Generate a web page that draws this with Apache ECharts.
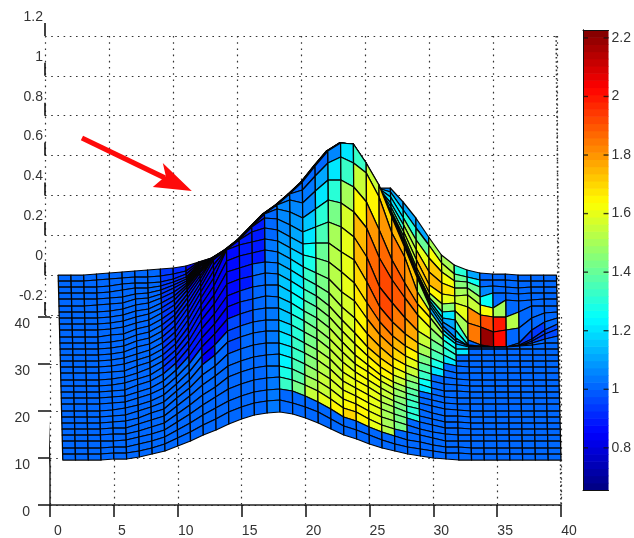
<!DOCTYPE html>
<html>
<head>
<meta charset="utf-8">
<style>html,body{margin:0;padding:0;background:#fff}#c{width:634px;height:538px}</style>
<script src="https://cdn.jsdelivr.net/npm/echarts@6/dist/echarts.min.js"></script>
</head>
<body>
<div id="c"></div>
<script>
// Tick labels
const xTicks = [0,5,10,15,20,25,30,35,40];
const depthTicks = [0,10,20,30,40];
const zTicks = [-0.2,0,0.2,0.4,0.6,0.8,1,1.2];
const colorTicks = [0.8,1,1.2,1.4,1.6,1.8,2,2.2];
const colorRange = [0.656,2.227];

// Surface vertex heights, one list per column (x = 1..40), front row to back row.
// Unit: 1 level = 0.005 on the vertical scale.
const h01=[-185,-179,-173,-166,-160,-154,-148,-142,-136,-129,-123,-117,-111,-105,-98,-92,-86,-80,-74,-68,-62,-55,-49,-43,-37,-31,-24,-18,-12,-6,0];
const h02=[-185,-179,-173,-166,-160,-154,-148,-142,-136,-129,-123,-117,-111,-105,-98,-92,-86,-80,-74,-68,-62,-55,-49,-43,-37,-31,-24,-18,-12,-6,0];
const h03=[-185,-179,-173,-166,-160,-154,-148,-142,-136,-129,-123,-117,-111,-105,-98,-92,-86,-80,-74,-68,-62,-55,-49,-43,-37,-31,-24,-18,-12,-6,0];
const h04=[-185,-179,-173,-166,-160,-154,-148,-142,-136,-129,-123,-117,-111,-105,-98,-92,-86,-80,-74,-68,-62,-55,-49,-43,-37,-30,-24,-18,-12,-5,1];
const h05=[-184,-178,-172,-166,-159,-153,-147,-141,-135,-128,-122,-116,-110,-104,-97,-91,-85,-79,-73,-67,-60,-54,-48,-42,-36,-29,-23,-17,-11,-4,2];
const h06=[-184,-178,-172,-165,-159,-153,-146,-140,-133,-127,-121,-115,-108,-102,-96,-89,-83,-77,-71,-65,-59,-52,-46,-40,-34,-28,-22,-15,-9,-3,3];
const h07=[-182,-176,-169,-162,-156,-149,-143,-136,-130,-123,-117,-110,-104,-98,-91,-85,-79,-72,-66,-60,-54,-48,-42,-36,-30,-24,-19,-13,-8,-2,4];
const h08=[-179,-173,-166,-159,-152,-145,-138,-132,-126,-119,-113,-106,-100,-93,-87,-81,-75,-69,-63,-57,-51,-45,-39,-34,-28,-23,-18,-13,-8,-2,5];
const h09=[-176,-169,-162,-155,-148,-141,-134,-127,-120,-113,-106,-99,-92,-86,-80,-74,-68,-62,-56,-50,-44,-38,-33,-28,-23,-19,-15,-11,-7,-1,6];
const h10=[-171,-163,-155,-147,-139,-131,-123,-116,-109,-102,-95,-88,-81,-75,-69,-63,-57,-51,-45,-40,-35,-30,-25,-21,-17,-13,-10,-7,-4,1,7];
const h11=[-166,-157,-148,-139,-130,-121,-113,-105,-97,-89,-81,-73,-66,-59,-52,-45,-39,-33,-28,-23,-19,-15,-12,-10,-8,-6,-4,-2,1,4,9];
const h12=[-160,-150,-140,-130,-120,-110,-100,-90,-81,-72,-63,-54,-45,-37,-30,-23,-17,-12,-8,-4,-1,2,4,6,8,9,10,11,12,13,13];
const h13=[-155,-144,-133,-122,-112,-101,-91,-80,-70,-59,-49,-39,-29,-20,-11,-3,4,10,15,17,17,17,17,17,17,17,17,17,17,17,17];
const h14=[-149,-137,-126,-114,-102,-91,-79,-67,-56,-44,-32,-21,-9,3,14,25,25,25,25,25,25,25,25,25,25,25,25,25,25,25,25];
const h15=[-144,-132,-121,-109,-97,-86,-74,-62,-51,-39,-27,-16,-4,7,19,30,35,35,35,35,35,35,35,35,35,35,35,35,35,35,35];
const h16=[-140,-128,-117,-105,-93,-82,-70,-58,-47,-35,-24,-12,-1,11,22,33,43,48,48,48,48,48,48,48,48,48,48,48,48,48,48];
const h17=[-138,-126,-115,-103,-91,-80,-68,-56,-45,-33,-21,-10,2,13,25,36,47,57,61,61,61,61,61,61,61,61,61,61,61,61,61];
const h18=[-137,-125,-114,-102,-91,-79,-68,-56,-45,-33,-22,-10,1,12,23,34,45,56,66,70,70,70,70,70,70,70,70,70,70,70,70];
const h19=[-139,-128,-116,-105,-94,-83,-72,-61,-50,-39,-28,-17,-6,5,16,27,38,50,63,75,81,81,81,81,81,81,81,81,81,81,81];
const h20=[-143,-132,-121,-110,-100,-89,-78,-68,-57,-46,-36,-25,-14,-3,8,20,31,43,57,72,85,93,93,93,93,93,93,93,93,93,93];
const h21=[-148,-137,-127,-116,-106,-96,-85,-75,-64,-54,-43,-32,-21,-10,2,17,32,48,66,84,99,109,109,109,109,109,109,109,109,109,109];
const h22=[-154,-144,-134,-124,-114,-104,-94,-84,-74,-64,-53,-42,-31,-18,-4,13,32,53,75,95,112,124,124,124,124,124,124,124,124,124,124];
const h23=[-160,-151,-142,-133,-124,-115,-106,-97,-87,-77,-67,-56,-45,-32,-17,3,23,48,72,95,118,132,132,132,132,132,132,132,132,132,132];
const h24=[-164,-155,-146,-137,-129,-121,-113,-105,-97,-89,-80,-69,-58,-43,-26,-8,15,38,63,88,112,131,131,131,131,131,131,131,131,131,131];
const h25=[-169,-160,-152,-144,-136,-128,-120,-112,-105,-97,-90,-81,-72,-59,-44,-28,-7,18,47,73,102,112,112,112,112,112,112,112,112,112,112];
const h26=[-173,-165,-157,-150,-142,-134,-127,-120,-113,-106,-100,-92,-83,-72,-60,-47,-32,-12,17,45,78,90,87,87,87,87,87,87,87,87,87];
const h27=[-176,-169,-161,-154,-146,-139,-132,-126,-120,-113,-107,-100,-92,-83,-72,-61,-47,-28,-5,15,42,58,59,60,62,64,68,72,78,83,87];
const h28=[-179,-172,-165,-157,-150,-143,-137,-131,-124,-118,-112,-105,-98,-90,-81,-71,-59,-43,-23,-8,18,28,29,31,34,38,43,50,57,65,73];
const h29=[-181,-174,-167,-160,-154,-147,-141,-134,-128,-122,-116,-109,-103,-95,-87,-78,-68,-56,-40,-29,-17,-3,-2,0,3,7,15,25,35,47,57];
const h30=[-183,-176,-170,-163,-157,-150,-144,-138,-131,-125,-119,-113,-106,-99,-91,-83,-74,-64,-53,-43,-37,-32,-29,-26,-23,-18,-10,3,17,30,38];
const h31=[-184,-178,-172,-166,-159,-153,-147,-141,-134,-128,-122,-116,-109,-102,-95,-88,-80,-72,-65,-59,-55,-51,-47,-43,-37,-29,-19,-8,3,12,20];
const h32=[-185,-178,-172,-166,-160,-153,-147,-141,-135,-129,-123,-116,-110,-104,-98,-91,-86,-80,-74,-69,-66,-63,-55,-45,-36,-28,-21,-13,-6,1,10];
const h33=[-185,-179,-173,-166,-160,-154,-148,-142,-136,-129,-123,-117,-111,-105,-98,-92,-86,-80,-74,-72,-71,-71,-70,-65,-48,-32,-20,-13,-7,-2,5];
const h34=[-185,-179,-173,-166,-160,-154,-148,-142,-136,-129,-123,-117,-111,-105,-98,-92,-86,-80,-74,-72,-72,-72,-71,-70,-52,-40,-30,-22,-12,-5,2];
const h35=[-185,-179,-173,-166,-160,-154,-148,-142,-136,-129,-123,-117,-111,-105,-98,-92,-86,-80,-74,-72,-72,-72,-72,-72,-57,-42,-33,-18,-11,-5,1];
const h36=[-185,-179,-173,-166,-160,-154,-148,-142,-136,-129,-123,-117,-111,-105,-98,-92,-86,-80,-74,-72,-72,-72,-72,-72,-55,-42,-25,-18,-12,-5,1];
const h37=[-185,-179,-173,-166,-160,-154,-148,-142,-136,-129,-123,-117,-111,-105,-98,-92,-86,-80,-74,-71,-71,-71,-70,-68,-53,-37,-26,-19,-13,-6,0];
const h38=[-185,-179,-173,-166,-160,-154,-148,-142,-136,-129,-123,-117,-111,-105,-98,-92,-86,-80,-74,-70,-68,-66,-64,-55,-43,-31,-25,-18,-12,-6,0];
const h39=[-185,-179,-173,-166,-160,-154,-148,-142,-136,-129,-123,-117,-111,-105,-98,-92,-86,-80,-74,-68,-64,-59,-55,-47,-38,-31,-24,-18,-12,-6,0];
const h40=[-185,-179,-173,-166,-160,-154,-148,-142,-136,-129,-123,-117,-111,-105,-98,-92,-86,-80,-74,-68,-61,-54,-49,-43,-37,-31,-24,-18,-12,-6,0];
const surfaceLevels=[h01,h02,h03,h04,h05,h06,h07,h08,h09,h10,h11,h12,h13,h14,h15,h16,h17,h18,h19,h20,h21,h22,h23,h24,h25,h26,h27,h28,h29,h30,h31,h32,h33,h34,h35,h36,h37,h38,h39,h40];

// Cell colour values read against the colour bar, one list per column of cells, front row to back row.
const c01=[1.02,1.02,1.02,1.02,1.02,1.02,1.02,1.02,1.02,1.02,1.02,1.02,1.02,1.02,1.02,1.02,1.02,1.02,1.02,1.02,1.02,1.02,1.02,1.02,1.02,1.02,1.02,1.02,1.02,1.02];
const c02=c01, c03=c01, c04=c01, c05=c01, c06=c01, c07=c01, c08=c01;
const c09=[1.02,1.02,1.02,1.02,1.02,1.02,1.02,1.02,1.02,1.02,1.02,.94,.94,.94,.94,.94,.94,.94,.94,.94,.94,.94,.94,.94,.94,.94,.94,.94,.94,.94];
const c10=[1.02,1.02,1.02,1.02,1.02,1.02,1.02,1.02,1.02,1.02,.92,.92,.92,.92,.92,.92,.92,.92,.92,.92,.92,.92,.92,.92,.92,.92,.92,.92,.92,.92];
const c11=[1.02,1.02,1.02,1.02,1.02,1.02,1.02,1.02,1.02,.88,.88,.88,.88,.88,.88,.88,.88,.88,.88,.88,.85,.85,.85,.85,.85,.85,.85,.85,.85,.85];
const c12=[1.02,1.02,1.02,1.02,1.02,1.02,1.02,.85,.85,.85,.85,.85,.85,.85,.85,.85,.85,.85,.85,.85,.85,.85,.85,.85,.85,.85,.85,.85,.85,.85];
const c13=[1,1,1,1,1,1,1,1,.85,.85,.85,.85,.85,.85,.85,.85,.85,.85,.85,.85,.85,.85,.85,.85,.85,.85,.85,.85,.85,.85];
const c14=[1.02,1.02,1.02,1.02,1.02,1.02,.96,.96,.96,.86,.86,.86,.86,.86,.86,.86,.86,.86,.86,.86,.86,.86,.86,.86,.86,.86,.86,.86,.86,.86];
const c15=[1.02,1.02,1.02,1.02,1.02,1.02,1.02,1.02,.97,.97,.97,.88,.88,.88,.88,.88,.88,.88,.88,.88,.88,.88,.88,.88,.88,.88,.88,.88,.88,.88];
const c16=[1.02,1.02,1.02,1.02,1.02,1.02,1.02,1.02,1.02,1.02,1,1,1,.9,.9,.9,.9,.9,.9,.9,.9,.9,.9,.9,.9,.9,.9,.9,.9,.9];
const c17=[1.04,1.04,1.04,1.04,1.04,1.04,1.04,1.04,1.04,1.04,1.04,1.04,1.04,1.04,1.04,1,1,1,1,1,1,1,1,1,1,1,1,1,1,1];
const c18=[1.02,1.02,1.32,1.28,1.24,1.22,1.2,1.19,1.17,1.16,1.15,1.15,1.13,1.1,1.1,1.08,1.07,1.06,1.05,1.03,1,1,1,1,1,1,1,1,1,1];
const c19=[1.02,1.02,1.42,1.38,1.36,1.34,1.32,1.31,1.3,1.28,1.26,1.24,1.22,1.2,1.18,1.14,1.1,1.08,1.06,1.03,1,1,1,1,1,1,1,1,1,1];
const c20=[1.02,1.02,1.55,1.5,1.48,1.46,1.45,1.44,1.42,1.4,1.38,1.36,1.34,1.32,1.28,1.25,1.22,1.15,1.06,1.04,1.02,1,1,1,1,1,1,1,1,1];
const c21=[1.02,1.02,1.6,1.56,1.54,1.53,1.52,1.5,1.49,1.48,1.46,1.45,1.44,1.43,1.42,1.4,1.36,1.3,1.2,1.12,1.02,1,1,1,1,1,1,1,1,1];
const c22=[1.02,1.02,1.66,1.6,1.58,1.57,1.56,1.55,1.54,1.54,1.53,1.53,1.52,1.52,1.52,1.52,1.5,1.44,1.3,1.2,1.05,1,1,1,1,1,1,1,1,1];
const c23=[1.02,1.02,1.7,1.66,1.63,1.61,1.6,1.59,1.58,1.58,1.57,1.57,1.58,1.58,1.59,1.6,1.6,1.58,1.5,1.32,1.2,1,1,1,1,1,1,1,1,1];
const c24=[1.02,1.02,1.66,1.64,1.63,1.63,1.62,1.62,1.62,1.62,1.62,1.63,1.64,1.66,1.68,1.7,1.74,1.74,1.64,1.55,1.32,1,1,1,1,1,1,1,1,1];
const c25=[1.02,1.02,1.6,1.6,1.6,1.6,1.6,1.6,1.62,1.64,1.66,1.7,1.74,1.78,1.82,1.87,1.9,1.87,1.8,1.65,1.55,1,1,1,1,1,1,1,1,1];
const c26=[1.02,1.02,1.52,1.5,1.5,1.5,1.52,1.54,1.56,1.6,1.64,1.68,1.72,1.78,1.83,1.88,1.92,1.93,1.88,1.8,1.7,1.3,1.3,1.3,1.3,1.25,1.22,1.2,1.15,1.05];
const c27=[1.02,1.02,1.02,1.42,1.42,1.42,1.43,1.45,1.47,1.5,1.55,1.6,1.65,1.7,1.75,1.8,1.85,1.9,1.9,1.85,1.75,1.2,1.25,1.3,1.45,1.45,1.3,1.22,1.2,1.1];
const c28=[1.02,1.02,1.02,1.02,1.02,1.3,1.3,1.32,1.35,1.38,1.42,1.48,1.55,1.6,1.65,1.72,1.78,1.82,1.85,1.8,1.72,1.2,1.25,1.3,1.5,1.55,1.55,1.5,1.3,1.1];
const c29=[1.02,1.02,1.02,1.02,1.02,1.02,1.02,1.02,1.02,1.02,1.2,1.25,1.32,1.38,1.42,1.5,1.55,1.6,1.65,1.68,1.5,1.2,1.25,1.3,1.6,1.72,1.72,1.6,1.4,1.1];
const c30=[1.02,1.02,1.02,1.02,1.02,1.02,1.02,1.02,1.02,1.02,1.02,1.02,1.02,1.2,1.28,1.35,1.4,1.45,1.5,1.5,1.1,1.15,1.2,1.25,1.5,1.65,1.75,1.72,1.62,1.5];
const c31=[1.02,1.02,1.02,1.02,1.02,1.02,1.02,1.02,1.02,1.02,1.02,1.02,1.02,1.02,1.02,1.2,1.3,1.3,1.25,1.2,1.05,1.05,1.1,1.2,1.45,1.6,1.68,1.62,1.55,1.5];
const c32=[1.02,1.02,1.02,1.02,1.02,1.02,1.02,1.02,1.02,1.02,1.02,1.02,1.02,1.02,1.02,1.02,1.02,1.2,1.15,1.05,1.1,1.2,1.3,1.5,1.6,1.55,1.5,1.45,1.4,1.3];
const c33=[1.02,1.02,1.02,1.02,1.02,1.02,1.02,1.02,1.02,1.02,1.02,1.02,1.02,1.02,1.02,1.02,1.02,1.02,1.02,1.02,1.02,1.02,1.02,1.85,1.82,1.55,1.5,1.4,1.25,1.1];
const c34=[1.02,1.02,1.02,1.02,1.02,1.02,1.02,1.02,1.02,1.02,1.02,1.02,1.02,1.02,1.02,1.02,1.02,1.02,1.02,1.02,1.02,1.02,1.02,2.2,1.92,1.62,1.25,1.05,1.02,1.02];
const c35=[1.02,1.02,1.02,1.02,1.02,1.02,1.02,1.02,1.02,1.02,1.02,1.02,1.02,1.02,1.02,1.02,1.02,1.02,1.02,1.02,1.02,1.02,1.02,2.02,2,1.5,1.02,1.02,1.02,1.02];
const c36=[1.02,1.02,1.02,1.02,1.02,1.02,1.02,1.02,1.02,1.02,1.02,1.02,1.02,1.02,1.02,1.02,1.02,1.02,1.02,1.02,1.02,1.02,1.02,1.02,1.52,1.02,1.02,1.02,1.02,1.02];
const c37=[1.02,1.02,1.02,1.02,1.02,1.02,1.02,1.02,1.02,1.02,1.02,1.02,1.02,1.02,1.02,1.02,1.02,1.02,1.02,1.02,.95,.95,.95,1.02,1.02,1.02,1.02,1.02,1.02,1.02];
const c38=[1.02,1.02,1.02,1.02,1.02,1.02,1.02,1.02,1.02,1.02,1.02,1.02,1.02,1.02,1.02,1.02,1.02,1.02,1.02,1.02,.95,.95,.95,1.02,1.02,1.02,1.02,1.02,1.02,1.02];
const c39=[1.02,1.02,1.02,1.02,1.02,1.02,1.02,1.02,1.02,1.02,1.02,1.02,1.02,1.02,1.02,1.02,1.02,1.02,1.02,1.02,.97,.97,1.02,1.02,1.02,1.02,1.02,1.02,1.02,1.02];
const surfaceColors=[c01,c02,c03,c04,c05,c06,c07,c08,c09,c10,c11,c12,c13,c14,c15,c16,c17,c18,c19,c20,c21,c22,c23,c24,c25,c26,c27,c28,c29,c30,c31,c32,c33,c34,c35,c36,c37,c38,c39];

// Annotation arrow, on the same x / level scale as the surface
const arrowTail=[2.5,137];
const arrowTip=[11.1,84];

const SHEAR = 0.012;      // x drift per row caused by the viewing angle
const LEVEL_RANGE = [-230,239];
const AXIS_TEXT = '#333';
const FONT = {color:AXIS_TEXT,fontFamily:'"Liberation Sans",Arial,sans-serif',fontSize:14};
const DOTS = {color:'#333',width:1.2,type:[1.6,4.6]};

function jet(value){
  const n=64;
  const idx=Math.min(n-1,Math.max(0,Math.floor((value-colorRange[0])/(colorRange[1]-colorRange[0])*n)));
  const t=(idx+0.5)/n;
  const f=a=>Math.round(255*Math.max(0,Math.min(1,a)));
  return `rgb(${f(Math.min(4*t-1.5,-4*t+4.5))},${f(Math.min(4*t-0.5,-4*t+3.5))},${f(Math.min(4*t+0.5,-4*t+2.5))})`;
}

const cells=[];
for(let j=29;j>=0;j--){
  for(let i=0;i<39;i++) cells.push([i+1,j,surfaceColors[i][j]]);
}
const colorSteps=[];
for(let k=0;k<64;k++){
  const step=(colorRange[1]-colorRange[0])/64;
  colorSteps.push([colorRange[0]+k*step,colorRange[0]+(k+1)*step]);
}

const chart=echarts.init(document.getElementById('c'),null,{renderer:'canvas'});
chart.setOption({
  animation:false,
  backgroundColor:'#fff',
  grid:[
    {left:45,width:512,top:36,height:279},   // back wall
    {left:50,width:511,top:36,height:469},   // surface and x axis
    {left:50,width:511,top:317,height:188},  // floor and depth axis
    {left:583,width:28,top:30,height:460}    // colour bar
  ],
  xAxis:[
    {gridIndex:0,type:'value',min:0,max:40,interval:5,axisLine:{show:false},axisTick:{show:false},axisLabel:{show:false},
      splitLine:{show:true,lineStyle:DOTS}},
    {gridIndex:1,type:'value',min:0,max:40,interval:5,position:'bottom',
      axisLine:{show:true,onZero:false,lineStyle:{color:'#222',width:1.5}},
      axisTick:{show:true,length:12,lineStyle:{color:'#111',width:1.5}},
      axisLabel:{...FONT,margin:19,padding:[0,0,0,16]},splitLine:{show:false}},
    {gridIndex:2,type:'value',min:0,max:40,interval:5,axisLine:{show:false},axisTick:{show:false},axisLabel:{show:false},
      splitLine:{show:true,lineStyle:DOTS}},
    {gridIndex:3,type:'value',min:0,max:1,position:'bottom',z:10,axisLine:{show:true,lineStyle:{color:'#111'}},axisTick:{show:false},axisLabel:{show:false},splitLine:{show:false}},
    {gridIndex:3,type:'value',min:0,max:1,position:'top',z:10,axisLine:{show:true,lineStyle:{color:'#111'}},axisTick:{show:false},axisLabel:{show:false},splitLine:{show:false}}
  ],
  yAxis:[
    {gridIndex:0,type:'value',min:-0.2,max:1.2,interval:0.2,axisLine:{show:false},axisTick:{show:false},
      axisLabel:{...FONT,margin:2,verticalAlign:'bottom',padding:[0,0,12,0]},splitLine:{show:true,lineStyle:DOTS}},
    {gridIndex:1,type:'value',min:LEVEL_RANGE[0],max:LEVEL_RANGE[1],show:false,splitLine:{show:false}},
    {gridIndex:2,type:'value',min:0,max:40,interval:10,axisLine:{show:false},
      axisTick:{show:true,length:12,lineStyle:{color:'#111',width:1.5}},
      axisLabel:{...FONT,margin:20,verticalAlign:'top'},splitLine:{show:true,lineStyle:DOTS}},
    {gridIndex:3,type:'value',min:colorRange[0],max:colorRange[1],position:'right',z:10,
      axisLine:{show:true,lineStyle:{color:'#111'}},
      axisTick:{show:false},
      axisLabel:{...FONT,margin:3,customValues:colorTicks},splitLine:{show:false}},
    {gridIndex:3,type:'value',min:colorRange[0],max:colorRange[1],position:'left',z:10,
      axisLine:{show:true,lineStyle:{color:'#111'}},
      axisTick:{show:false},axisLabel:{show:false},splitLine:{show:false}}
  ],
  series:[
    // z axis: short solid marks rising from each tick value
    {type:'scatter',xAxisIndex:0,yAxisIndex:0,silent:true,clip:false,z:3,symbol:'rect',symbolSize:[2,13],symbolOffset:[0,-6.5],
      itemStyle:{color:'#111'},data:zTicks.map(v=>[0,v])},
    // slanted depth axis edge
    {type:'line',xAxisIndex:2,yAxisIndex:2,silent:true,clip:false,z:3,symbol:'none',
      lineStyle:{color:'#222',width:1.5},data:[[-0.4,40],[-0.22,24],[0,8],[0,0]]},
    // right edge of the box
    {type:'line',xAxisIndex:1,yAxisIndex:1,silent:true,clip:false,z:3,symbol:'none',
      lineStyle:{color:'#333',width:1.6,type:[1.6,2.6]},data:[[39.62,239],[40,-230]]},
    // the surface, back rows first so that front rows hide them
    {type:'custom',xAxisIndex:1,yAxisIndex:1,silent:true,clip:false,z:5,progressive:0,
      data:cells,
      renderItem:function(params,api){
        const X=api.value(0), j=api.value(1), c=api.value(2), i=X-1;
        const L=surfaceLevels;
        const pts=[
          api.coord([X-SHEAR*j,L[i][j]]),
          api.coord([X+1-SHEAR*j,L[i+1][j]]),
          api.coord([X+1-SHEAR*(j+1),L[i+1][j+1]]),
          api.coord([X-SHEAR*(j+1),L[i][j+1]])
        ];
        return {type:'polygon',shape:{points:pts},
          style:{fill:jet(c),stroke:'#050505',lineWidth:1.25,lineJoin:'round'}};
      }},
    // annotation arrow
    {type:'custom',xAxisIndex:1,yAxisIndex:1,silent:true,clip:false,z:6,
      data:[[arrowTail[0],arrowTail[1],arrowTip[0],arrowTip[1]]],
      renderItem:function(params,api){
        const a=api.coord([api.value(0),api.value(1)]), b=api.coord([api.value(2),api.value(3)]);
        const p=(dx,dy)=>[b[0]+dx,b[1]+dy];
        const d=[b[0]-a[0],b[1]-a[1]], l=Math.hypot(d[0],d[1]), n=[-d[1]/l*2.6,d[0]/l*2.6];
        const neck=[b[0]-d[0]/l*30,b[1]-d[1]/l*30];
        return {type:'group',children:[
          {type:'polygon',shape:{points:[[a[0]+n[0],a[1]+n[1]],[neck[0]+n[0],neck[1]+n[1]],[neck[0]-n[0],neck[1]-n[1]],[a[0]-n[0],a[1]-n[1]]]},style:{fill:'#fe0a0a'}},
          {type:'polygon',shape:{points:[p(0,0),p(-29,-28),p(-26,-15),p(-39,-4)]},style:{fill:'#fe0a0a'}}
        ]};
      }},
    // colour bar
    {type:'custom',xAxisIndex:3,yAxisIndex:3,silent:true,z:2,
      data:colorSteps,
      renderItem:function(params,api){
        const lo=api.value(0), hi=api.value(1);
        const p0=api.coord([0,hi]), p1=api.coord([1,lo]);
        return {type:'rect',shape:{x:p0[0],y:p0[1],width:p1[0]-p0[0],height:p1[1]-p0[1]+0.6},
          style:{fill:jet((lo+hi)/2)}};
      }},
    // colour bar ticks, inside both edges
    {type:'scatter',xAxisIndex:3,yAxisIndex:3,silent:true,clip:false,z:4,symbol:'rect',symbolSize:[5,1.4],symbolOffset:[2.5,0],
      itemStyle:{color:'#111'},data:colorTicks.map(v=>[0,v])},
    {type:'scatter',xAxisIndex:3,yAxisIndex:3,silent:true,clip:false,z:4,symbol:'rect',symbolSize:[5,1.4],symbolOffset:[-2.5,0],
      itemStyle:{color:'#111'},data:colorTicks.map(v=>[1,v])}
  ]
});
</script>
</body>
</html>
